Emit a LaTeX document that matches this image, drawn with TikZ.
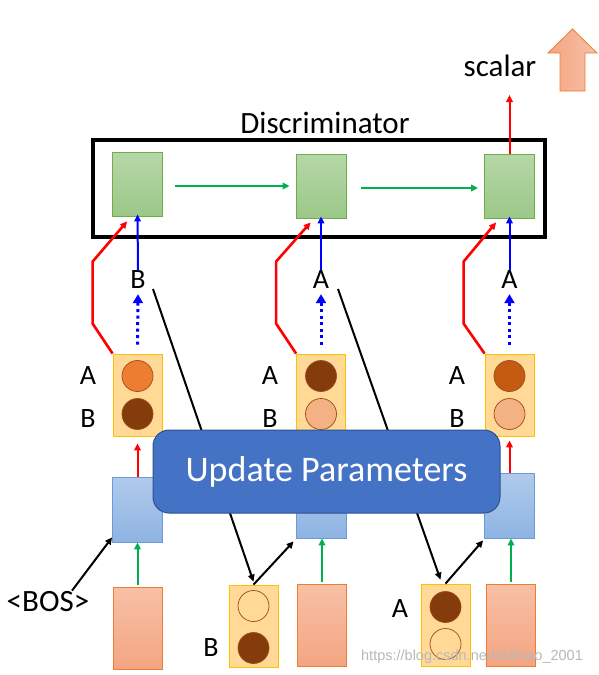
\documentclass[tikz,border=0pt]{standalone}
\usepackage{fontspec}
\setmainfont{Carlito}
\newfontfamily\wmfont{Liberation Sans}
\usetikzlibrary{arrows.meta,calc}
\definecolor{dgT}{HTML}{B6D7A8}
\definecolor{dgB}{HTML}{9BC888}
\definecolor{dgE}{HTML}{70AD47}
\definecolor{gbT}{HTML}{B0CAEB}
\definecolor{gbB}{HTML}{8EB4E3}
\definecolor{gbE}{HTML}{6A9BD8}
\definecolor{obT}{HTML}{F7C0A6}
\definecolor{obB}{HTML}{F4A582}
\definecolor{obE}{HTML}{ED7D31}
\definecolor{ybF}{HTML}{FFD995}
\definecolor{ybE}{HTML}{FFC000}
\definecolor{brE}{HTML}{9C4A1A}
\definecolor{cOr}{HTML}{ED7D31}
\definecolor{cDk}{HTML}{843C0C}
\definecolor{cMd}{HTML}{C55A11}
\definecolor{cLt}{HTML}{F4B183}
\definecolor{upF}{HTML}{4472C4}
\definecolor{upE}{HTML}{2F528F}
\definecolor{aGreen}{HTML}{00B050}
\begin{document}
\begin{tikzpicture}[x=1pt,y=-1pt,
  dbox/.style={draw=dgE,line width=0.8pt,top color=dgT,bottom color=dgB,minimum width=50pt,minimum height=64pt,inner sep=0pt},
  gbox/.style={draw=gbE,line width=0.8pt,top color=gbT,bottom color=gbB,minimum width=50pt,minimum height=65pt,inner sep=0pt},
  obox/.style={draw=obE,line width=0.8pt,top color=obT,bottom color=obB,minimum width=49pt,minimum height=82pt,inner sep=0pt},
  ybox/.style={draw=ybE,line width=0.8pt,fill=ybF,minimum width=49pt,minimum height=82pt,inner sep=0pt},
  ball/.style={circle,draw=brE,line width=0.7pt,minimum size=31pt,inner sep=0pt},
  lab/.style={font=\fontsize{28}{30}\selectfont,inner sep=1pt},
  tip/.style={-{Triangle[length=7pt,width=6.5pt]}},
  redarr/.style={draw=red,line width=2pt,tip},
  redpoly/.style={draw=red,line width=2.6pt,tip},
  bluearr/.style={draw=blue,line width=2pt,tip},
  bluedot/.style={draw=blue,line width=3pt,dash pattern=on 3pt off 3.5pt,-{Triangle[length=9pt,width=10pt]}},
  greenarr/.style={draw=aGreen,line width=2pt,tip},
  greenh/.style={draw=aGreen,line width=2.8pt,tip},
  blackarr/.style={draw=black,line width=2pt,tip},
]
\useasboundingbox (0,0) rectangle (598,675);

% big orange arrow
\path[draw=obE,line width=0.8pt,left color=obB,right color=obT]
  (548,53) -- (572.5,29) -- (597,53) -- (585,53) -- (585,91) -- (560,91) -- (560,53) -- cycle;
\node[font=\fontsize{31}{34}\selectfont,inner sep=0pt] (scalar) at (500,66) {scalar};
\coordinate (scalarend) at (509.5,95);

% discriminator
\node[font=\fontsize{31}{34}\selectfont,inner sep=0pt] (disctitle) at (325,123) {Discriminator};
\node[draw=black,line width=3.5pt,minimum width=452pt,minimum height=97pt,inner sep=0pt] (disc) at (319,188.5) {};
\node[dbox] (d1) at (137.5,184) {};
\node[dbox] (d2) at (321,186) {};
\node[dbox] (d3) at (509.5,186) {};
\draw[greenh] ($(d1.east)+(12,2)$) -- ($(d2.west)+(-6,0)$);
\draw[greenh] ($(d2.east)+(15,2)$) -- ($(d3.west)+(-6,2)$);
\draw[redarr] (d3.north) -- (scalarend);

% sampled tokens
\node[lab] (t1) at (138,280) {B};
\node[lab] (t2) at (321,280) {A};
\node[lab] (t3) at (509.5,280) {A};
\draw[bluearr] (t1.north) -- ($(d1.south)+(0,-2)$);
\draw[bluearr] (t2.north) -- ($(d2.south)+(0,-2)$);
\draw[bluearr] (t3.north) -- ($(d3.south)+(0,-2)$);

% output distributions
\node[ybox] (y1) at (137.5,395) {};
\node[ybox] (y2) at (321,395) {};
\node[ybox] (y3) at (509.5,395) {};
\node[ball,fill=cOr] (y1a) at (137.5,376) {};
\node[ball,fill=cDk] (y1b) at (137.5,414) {};
\node[ball,fill=cDk] (y2a) at (321,376) {};
\node[ball,fill=cLt] (y2b) at (321,414) {};
\node[ball,fill=cMd] (y3a) at (509.5,376) {};
\node[ball,fill=cLt] (y3b) at (509.5,414) {};
\node[lab] (y1la) at (88,376) {A};
\node[lab] (y1lb) at (88,419) {B};
\node[lab] (y2la) at (270,376) {A};
\node[lab] (y2lb) at (270,419) {B};
\node[lab] (y3la) at (457,376) {A};
\node[lab] (y3lb) at (457,419) {B};

\draw[bluedot] (y1.north) ++(0,-9) -- ($(t1.south)+(0,4)$);
\draw[bluedot] (y2.north) ++(0,-9) -- ($(t2.south)+(0,4)$);
\draw[bluedot] (y3.north) ++(0,-9) -- ($(t3.south)+(0,4)$);

\draw[redpoly] (y1.north west) -- ++(-20,-30) -- ++(0,-62) -- ($(d1.south west)+(15,5)$);
\draw[redpoly] (y2.north west) -- ++(-20,-30) -- ++(0,-62) -- ($(d2.south west)+(15,4)$);
\draw[redpoly] (y3.north west) -- ++(-21,-30) -- ++(0,-62) -- ($(d3.south west)+(12,4)$);

% generator cells
\node[gbox] (g1) at (137.5,509.5) {};
\node[gbox] (g2) at (321,505.5) {};
\node[gbox] (g3) at (509.5,505.5) {};
\draw[redarr] (g1.north) -- ($(y1.south)+(0,7)$);
\draw[redarr] (g2.north) -- ($(y2.south)+(0,7)$);
\draw[redarr] (g3.north) -- ($(y3.south)+(0,4)$);

% bottom tokens
\node[ybox] (b1) at (253.5,626) {};
\node[ball,fill=ybF] (b1a) at (253.5,606) {};
\node[ball,fill=cDk] (b1b) at (253.5,648) {};
\node[lab] (b1l) at (211,648) {B};
\node[ybox] (b2) at (445.5,625) {};
\node[ball,fill=cDk] (b2a) at (445.5,607) {};
\node[ball,fill=ybF] (b2b) at (445.5,644) {};
\node[lab] (b2l) at (400,609) {A};

% sampling lines (pass behind the update box)
\draw[blackarr] ($(t1.center)+(15,9)$) -- ($(b1.north)+(0,-3)$);
\draw[blackarr] ($(t2.center)+(17,9)$) -- ($(b2.north)+(-5,-4)$);

% update parameters
\node[draw=upE,fill=upF,line width=1pt,rounded corners=16pt,minimum width=347pt,minimum height=83pt,text=white,font=\fontsize{36}{40}\selectfont] (upd) at (326.5,471.5) {Update Parameters};

% inputs
\node[obox] (o1) at (137.5,628) {};
\node[obox] (o2) at (322,625) {};
\node[obox] (o3) at (511,625) {};
\draw[greenarr] ($(o1.north)+(0,-2)$) -- (g1.south);
\draw[greenarr] ($(o2.north)+(0,-2)$) -- ($(g2.south)+(1,0)$);
\draw[greenarr] ($(o3.north)+(0,-2)$) -- ($(g3.south)+(1.5,0)$);

\node[font=\fontsize{31}{34}\selectfont,inner sep=0pt] (bos) at (48,602) {<BOS>};
\draw[blackarr] ($(bos.north)+(24,-1)$) -- ($(g1.south west)+(0,-5)$);
\draw[blackarr] (b1.north) -- ($(g2.south west)+(-2,3)$);
\draw[blackarr] (b2.north) -- ($(g3.south west)+(-1,2)$);

% watermark
\node[font=\wmfont\fontsize{14.5}{16}\selectfont,text=black!28,inner sep=0pt] (wm) at (472,657) {https://blog.csdn.net/oldmao\_2001};
\end{tikzpicture}
\end{document}
